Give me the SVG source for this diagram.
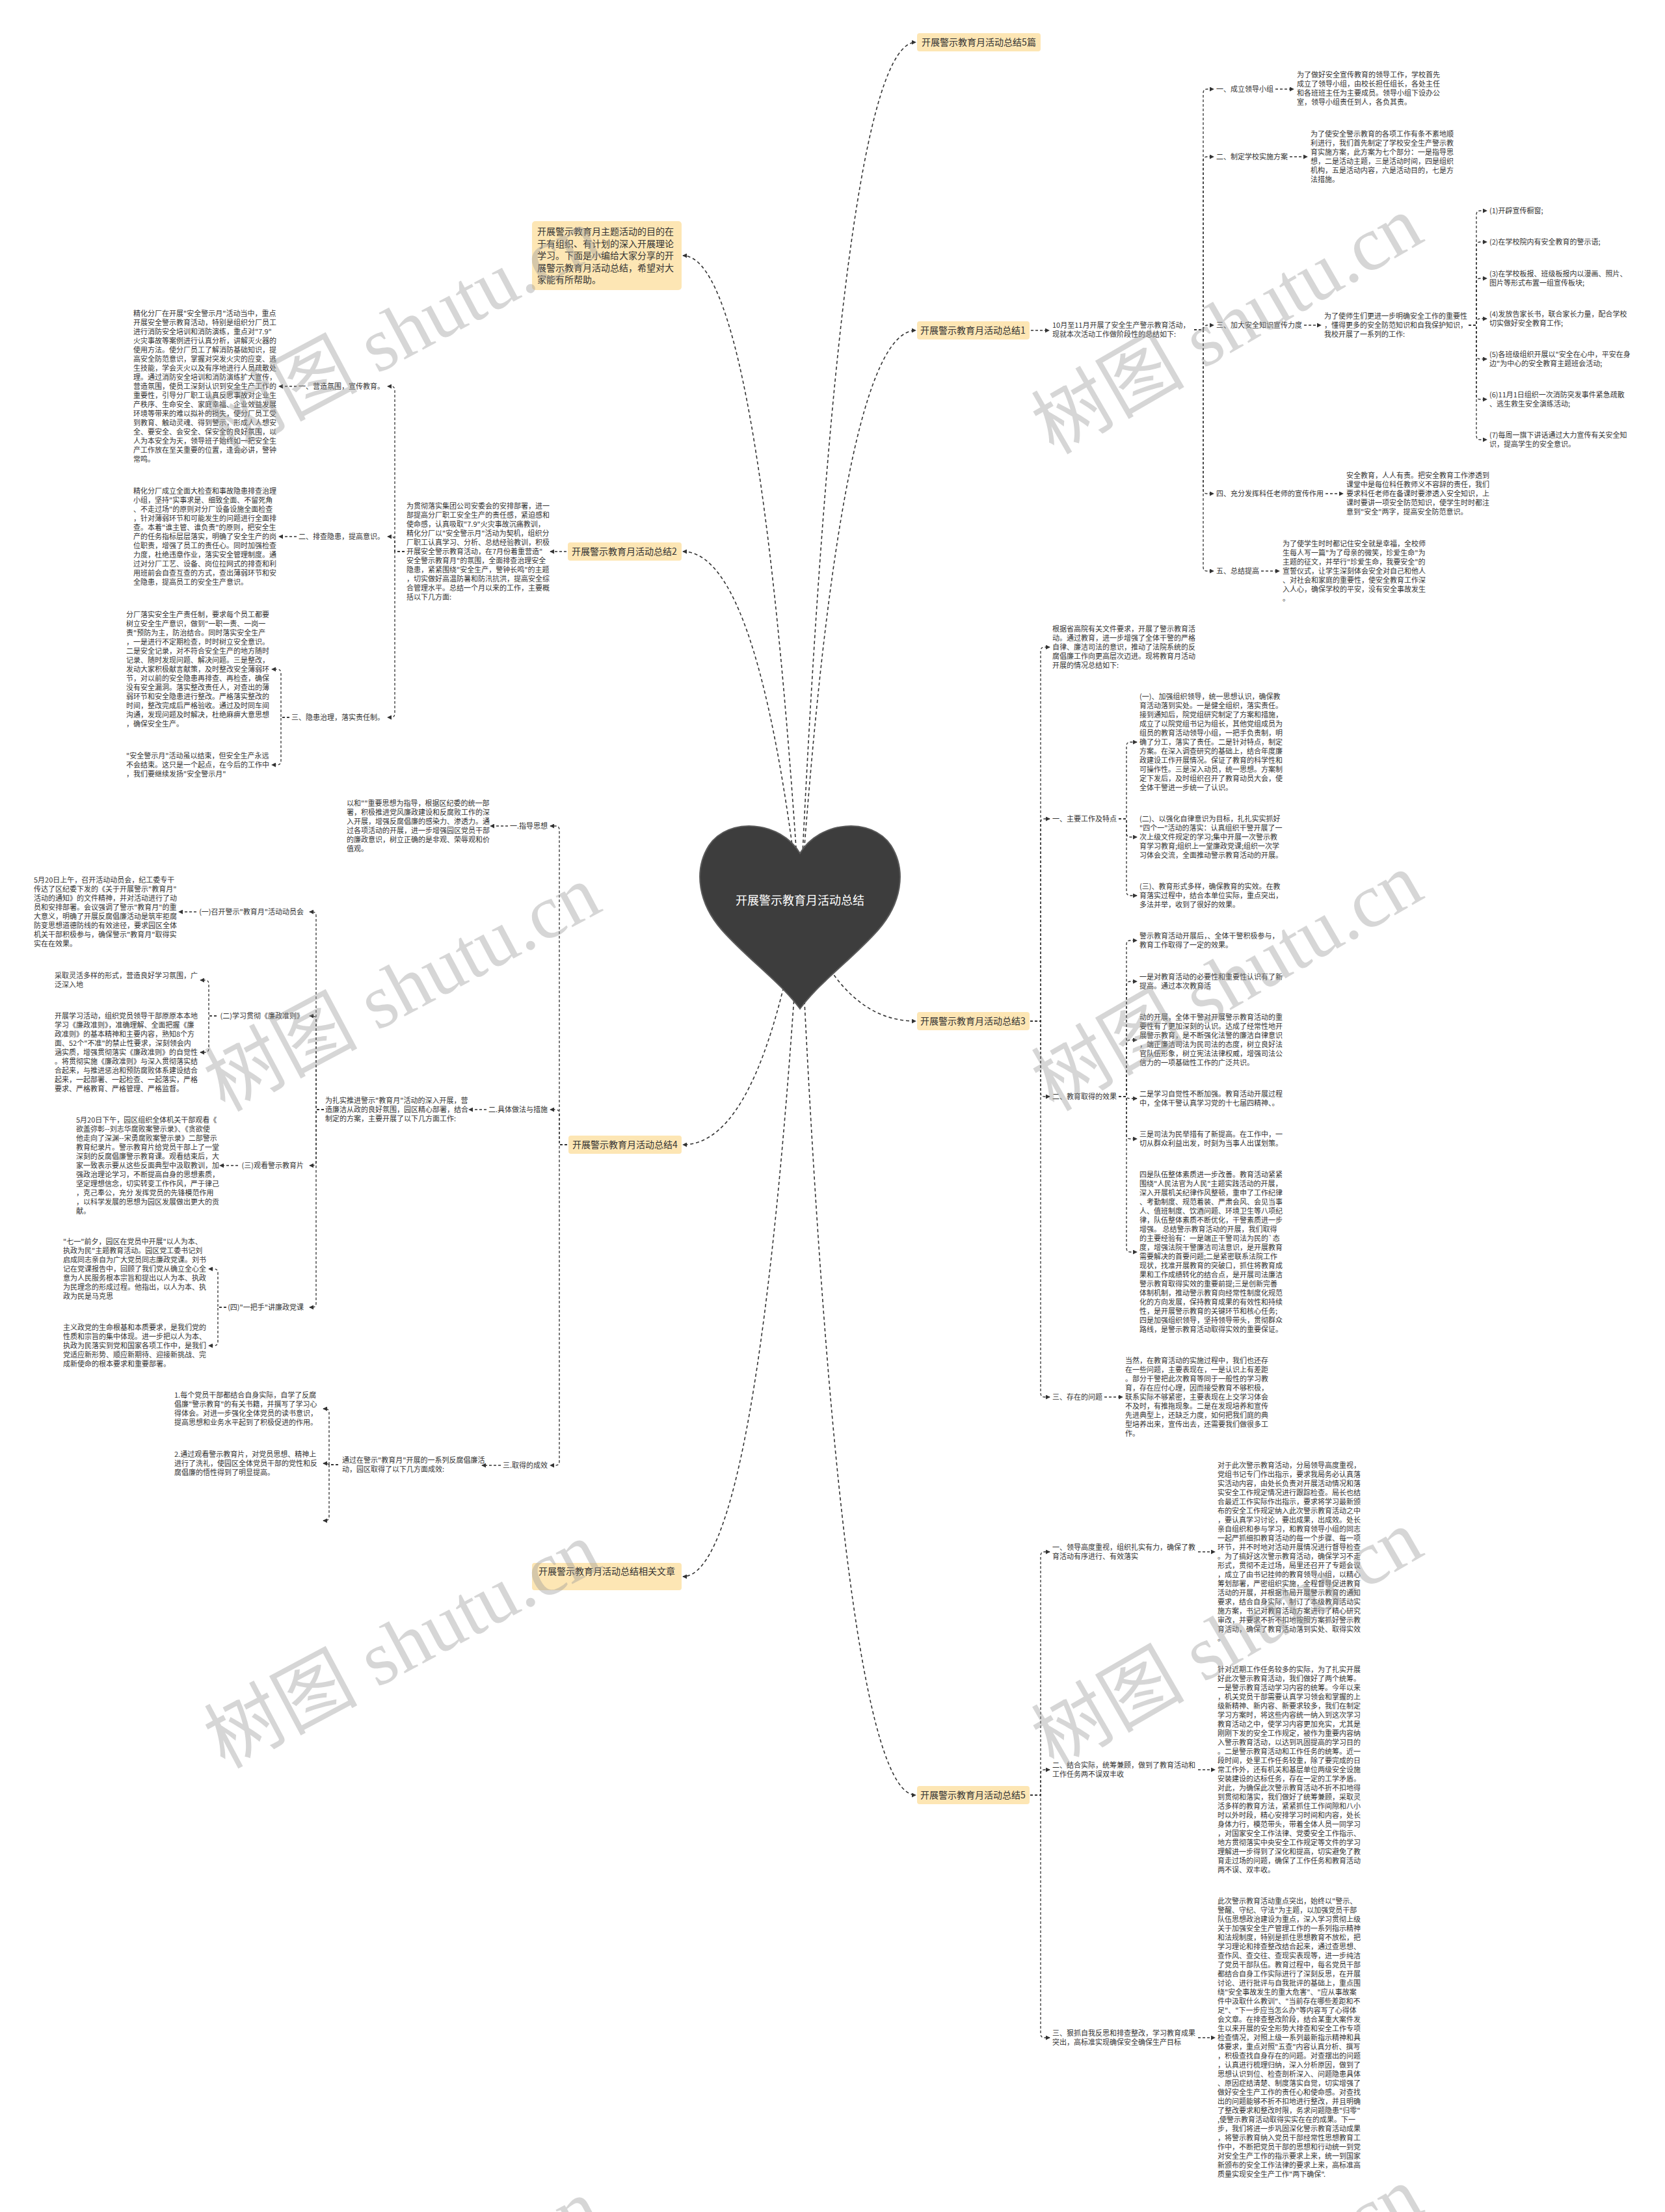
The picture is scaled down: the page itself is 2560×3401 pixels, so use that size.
<svg xmlns="http://www.w3.org/2000/svg" width="2560" height="3401" viewBox="0 0 2560 3401">
<defs>
<style>
.t{font-family:"Noto Sans CJK SC","Noto Sans",sans-serif;font-size:11px;fill:#333}
.n{font-family:"Noto Sans CJK SC","Noto Sans",sans-serif;font-size:14px;fill:#333}
.nb{fill:#fde6b4}
.c{fill:none;stroke:#333;stroke-width:1.3;stroke-dasharray:4 3}
.m{fill:none;stroke:#333;stroke-width:1.6;stroke-dasharray:5 4}
.w{font-family:"Liberation Serif","Noto Sans CJK SC",serif;font-size:118px;fill:#999;fill-opacity:0.4}
</style>
<marker id="a" viewBox="0 0 8 8" refX="7" refY="4" markerWidth="7" markerHeight="7" markerUnits="userSpaceOnUse" orient="auto"><path d="M0 0L8 4L0 8z" fill="#333"/></marker>
</defs>
<rect width="2560" height="3401" fill="#fff"/>

<g id="connectors">
<path class="m" marker-end="url(#a)" d="M1230 1395Q1292 65 1408 65"/>
<path class="m" marker-end="url(#a)" d="M1230 1395Q1167 393 1050 393"/>
<path class="m" marker-end="url(#a)" d="M1230 1395Q1292 508 1408 508"/>
<path class="m" marker-end="url(#a)" d="M1230 1395Q1167 848 1050 848"/>
<path class="m" marker-end="url(#a)" d="M1230 1395Q1292 1570 1408 1570"/>
<path class="m" marker-end="url(#a)" d="M1230 1395Q1167 1760 1050 1760"/>
<path class="m" marker-end="url(#a)" d="M1230 1395Q1167 2424 1050 2424"/>
<path class="m" marker-end="url(#a)" d="M1230 1395Q1292 2760 1408 2760"/>
<path class="c" marker-end="url(#a)" d="M1585 508H1613"/>
<path class="c" marker-end="url(#a)" d="M1836 507H1850V143Q1850 137 1856 137H1866"/>
<path class="c" marker-end="url(#a)" d="M1836 507H1850V247Q1850 241 1856 241H1866"/>
<path class="c" marker-end="url(#a)" d="M1836 507H1850Q1851 500 1856 500H1866"/>
<path class="c" marker-end="url(#a)" d="M1836 507H1850V753Q1850 759 1856 759H1866"/>
<path class="c" marker-end="url(#a)" d="M1836 507H1850V872Q1850 878 1856 878H1866"/>
<path class="c" marker-end="url(#a)" d="M1961 137H1989"/>
<path class="c" marker-end="url(#a)" d="M1983 241H2010"/>
<path class="c" marker-end="url(#a)" d="M2005 500H2031"/>
<path class="c" marker-end="url(#a)" d="M2038 759H2065"/>
<path class="c" marker-end="url(#a)" d="M1939 878H1967"/>
<path class="c" marker-end="url(#a)" d="M2258 500H2270V330Q2270 324 2276 324H2286"/>
<path class="c" marker-end="url(#a)" d="M2258 500H2270V378Q2270 372 2276 372H2286"/>
<path class="c" marker-end="url(#a)" d="M2258 500H2270V434Q2270 428 2276 428H2286"/>
<path class="c" marker-end="url(#a)" d="M2258 500H2270V496Q2270 490 2276 490H2286"/>
<path class="c" marker-end="url(#a)" d="M2258 500H2270V546Q2270 552 2276 552H2286"/>
<path class="c" marker-end="url(#a)" d="M2258 500H2270V608Q2270 614 2276 614H2286"/>
<path class="c" marker-end="url(#a)" d="M2258 500H2270V670Q2270 676 2276 676H2286"/>
<path class="c" marker-end="url(#a)" d="M871 848H846"/>
<path class="c" marker-end="url(#a)" d="M622 848H607V600Q607 594 601 594H596"/>
<path class="c" marker-end="url(#a)" d="M622 848H607V831Q607 825 601 825H596"/>
<path class="c" marker-end="url(#a)" d="M622 848H607V1097Q607 1103 601 1103H596"/>
<path class="c" marker-end="url(#a)" d="M456 594H429"/>
<path class="c" marker-end="url(#a)" d="M456 825H429"/>
<path class="c" marker-end="url(#a)" d="M445 1103H432V1035Q432 1029 426 1029H418"/>
<path class="c" marker-end="url(#a)" d="M445 1103H432V1170Q432 1176 426 1176H418"/>
<path class="c" marker-end="url(#a)" d="M1584 1570H1600V1001Q1600 995 1606 995H1614"/>
<path class="c" marker-end="url(#a)" d="M1584 1570H1600V1265Q1600 1259 1606 1259H1614"/>
<path class="c" marker-end="url(#a)" d="M1584 1570H1600V1680Q1600 1686 1606 1686H1614"/>
<path class="c" marker-end="url(#a)" d="M1584 1570H1600V2142Q1600 2148 1606 2148H1614"/>
<path class="c" marker-end="url(#a)" d="M1720 1259H1732V1147Q1732 1141 1738 1141H1748"/>
<path class="c" marker-end="url(#a)" d="M1720 1259H1732V1281Q1732 1287 1738 1287H1748"/>
<path class="c" marker-end="url(#a)" d="M1720 1259H1732V1371Q1732 1377 1738 1377H1748"/>
<path class="c" marker-end="url(#a)" d="M1720 1686H1732V1452Q1732 1446 1738 1446H1748"/>
<path class="c" marker-end="url(#a)" d="M1720 1686H1732V1515Q1732 1509 1738 1509H1748"/>
<path class="c" marker-end="url(#a)" d="M1720 1686H1732V1605Q1732 1599 1738 1599H1748"/>
<path class="c" marker-end="url(#a)" d="M1720 1686H1732Q1733 1689 1738 1689H1748"/>
<path class="c" marker-end="url(#a)" d="M1720 1686H1732V1745Q1732 1751 1738 1751H1748"/>
<path class="c" marker-end="url(#a)" d="M1720 1686H1732V1919Q1732 1925 1738 1925H1748"/>
<path class="c" marker-end="url(#a)" d="M1698 2148H1726"/>
<path class="c" marker-end="url(#a)" d="M872 1760H860V1276Q860 1270 854 1270H846"/>
<path class="c" marker-end="url(#a)" d="M872 1760H860V1712Q860 1706 854 1706H846"/>
<path class="c" marker-end="url(#a)" d="M872 1760H860V2247Q860 2253 854 2253H846"/>
<path class="c" marker-end="url(#a)" d="M781 1270H754"/>
<path class="c" marker-end="url(#a)" d="M748 1706H721"/>
<path class="c" marker-end="url(#a)" d="M770 2253H741"/>
<path class="c" marker-end="url(#a)" d="M498 1706H486V1408Q486 1402 480 1402H476"/>
<path class="c" marker-end="url(#a)" d="M498 1706H486V1568Q486 1562 480 1562H476"/>
<path class="c" marker-end="url(#a)" d="M498 1706H486V1786Q486 1792 480 1792H476"/>
<path class="c" marker-end="url(#a)" d="M498 1706H486V2004Q486 2010 480 2010H476"/>
<path class="c" marker-end="url(#a)" d="M302 1402H275"/>
<path class="c" marker-end="url(#a)" d="M333 1562H321V1513Q321 1507 315 1507H308"/>
<path class="c" marker-end="url(#a)" d="M333 1562H321V1612Q321 1618 315 1618H308"/>
<path class="c" marker-end="url(#a)" d="M366 1792H338"/>
<path class="c" marker-end="url(#a)" d="M348 2010H335V1957Q335 1951 329 1951H321"/>
<path class="c" marker-end="url(#a)" d="M348 2010H335V2063Q335 2069 329 2069H321"/>
<path class="c" marker-end="url(#a)" d="M520 2252H506V2172Q506 2166 500 2166H497"/>
<path class="c" marker-end="url(#a)" d="M520 2252H506Q504 2250 500 2250H497"/>
<path class="c" marker-end="url(#a)" d="M520 2252H506V2332Q506 2338 500 2338H497"/>
<path class="c" marker-end="url(#a)" d="M1584 2760H1600V2392Q1600 2386 1606 2386H1614"/>
<path class="c" marker-end="url(#a)" d="M1584 2760H1600V2727Q1600 2721 1606 2721H1614"/>
<path class="c" marker-end="url(#a)" d="M1584 2760H1600V3127Q1600 3133 1606 3133H1614"/>
<path class="c" marker-end="url(#a)" d="M1842 2386H1868"/>
<path class="c" marker-end="url(#a)" d="M1842 2721H1868"/>
<path class="c" marker-end="url(#a)" d="M1842 3133H1868"/>
</g>

<g id="center">
<path d="M1230 1312C1200 1262 1120 1255 1090 1300C1065 1340 1075 1390 1110 1430C1150 1475 1200 1510 1230 1551C1260 1510 1310 1475 1350 1430C1385 1390 1395 1340 1370 1300C1340 1255 1260 1262 1230 1312Z" fill="#3d3d3d" stroke="#5a5a5a" stroke-width="2"/>
<text x="1230" y="1391" text-anchor="middle" style="font-family:'Noto Sans CJK SC',sans-serif;font-size:18px;fill:#fff">开展警示教育月活动总结</text>
</g>

<g id="node-top">
<rect class="nb" x="1410" y="51" width="190" height="28" rx="4"/>
<text class="n" x="1505" y="70" text-anchor="middle">开展警示教育月活动总结5篇</text>
</g>

<g id="node-intro">
<rect class="nb" x="818" y="340" width="230" height="106" rx="5"/>
<text class="n" x="826" y="361"><tspan>开展警示教育月主题活动的目的在</tspan><tspan x="826" dy="18.5">于有组织、有计划的深入开展理论</tspan><tspan x="826" dy="18.5">学习。下面是小编给大家分享的开</tspan><tspan x="826" dy="18.5">展警示教育月活动总结，希望对大</tspan><tspan x="826" dy="18.5">家能有所帮助。</tspan></text>
</g>

<g id="branch1">
<rect class="nb" x="1410" y="494" width="173" height="28" rx="4"/>
<text class="n" x="1496" y="513" text-anchor="middle">开展警示教育月活动总结1</text>
<text class="t" x="1618" y="504"><tspan>10月至11月开展了安全生产警示教育活动，</tspan><tspan x="1618" dy="14">现就本次活动工作做阶段性的总结如下:</tspan></text>
<text class="t" x="1870" y="141">一、成立领导小组</text>
<text class="t" x="1870" y="245">二、制定学校实施方案</text>
<text class="t" x="1870" y="504">三、加大安全知识宣传力度</text>
<text class="t" x="1870" y="763">四、充分发挥科任老师的宣传作用</text>
<text class="t" x="1870" y="882">五、总结提高</text>
<text class="t" x="1994" y="119"><tspan>为了做好安全宣传教育的领导工作，学校首先</tspan><tspan x="1994" dy="14">成立了领导小组，由校长担任组长，各处主任</tspan><tspan x="1994" dy="14">和各班班主任为主要成员。领导小组下设办公</tspan><tspan x="1994" dy="14">室，领导小组责任到人，各负其责。</tspan></text>
<text class="t" x="2015" y="210"><tspan>为了使安全警示教育的各项工作有条不紊地顺</tspan><tspan x="2015" dy="14">利进行，我们首先制定了学校安全生产警示教</tspan><tspan x="2015" dy="14">育实施方案，此方案为七个部分：一是指导思</tspan><tspan x="2015" dy="14">想，二是活动主题，三是活动时间，四是组织</tspan><tspan x="2015" dy="14">机构，五是活动内容，六是活动目的，七是方</tspan><tspan x="2015" dy="14">法措施。</tspan></text>
<text class="t" x="2036" y="490"><tspan>为了使师生们更进一步明确安全工作的重要性</tspan><tspan x="2036" dy="14">，懂得更多的安全防范知识和自我保护知识，</tspan><tspan x="2036" dy="14">我校开展了一系列的工作:</tspan></text>
<text class="t" x="2290" y="328">(1)开辟宣传橱窗;</text>
<text class="t" x="2290" y="376">(2)在学校院内有安全教育的警示语;</text>
<text class="t" x="2290" y="425"><tspan>(3)在学校板报、班级板报内以漫画、照片、</tspan><tspan x="2290" dy="14">图片等形式布置一组宣传板块;</tspan></text>
<text class="t" x="2290" y="487"><tspan>(4)发放告家长书，联合家长力量，配合学校</tspan><tspan x="2290" dy="14">切实做好安全教育工作;</tspan></text>
<text class="t" x="2290" y="549"><tspan>(5)各班级组织开展以"安全在心中，平安在身</tspan><tspan x="2290" dy="14">边"为中心的安全教育主题班会活动;</tspan></text>
<text class="t" x="2290" y="611"><tspan>(6)11月1日组织一次消防突发事件紧急疏散</tspan><tspan x="2290" dy="14">、逃生救生安全演练活动;</tspan></text>
<text class="t" x="2290" y="673"><tspan>(7)每周一旗下讲话通过大力宣传有关安全知</tspan><tspan x="2290" dy="14">识，提高学生的安全意识。</tspan></text>
<text class="t" x="2070" y="735"><tspan>安全教育，人人有责。把安全教育工作渗透到</tspan><tspan x="2070" dy="14">课堂中是每位科任教师义不容辞的责任，我们</tspan><tspan x="2070" dy="14">要求科任老师在备课时要渗透入安全知识，上</tspan><tspan x="2070" dy="14">课时要讲一项安全防范知识，使学生时时都注</tspan><tspan x="2070" dy="14">意到"安全"两字，提高安全防范意识。</tspan></text>
<text class="t" x="1972" y="840"><tspan>为了使学生时时都记住安全就是幸福，全校师</tspan><tspan x="1972" dy="14">生每人写一篇"为了母亲的微笑，珍爱生命"为</tspan><tspan x="1972" dy="14">主题的征文，并举行"珍爱生命，我要安全"的</tspan><tspan x="1972" dy="14">宣誓仪式，让学生深刻体会安全对自己和他人</tspan><tspan x="1972" dy="14">、对社会和家庭的重要性，使安全教育工作深</tspan><tspan x="1972" dy="14">入人心，确保学校的平安，没有安全事故发生</tspan><tspan x="1972" dy="14">。</tspan></text>
</g>

<g id="branch2">
<rect class="nb" x="873" y="834" width="175" height="28" rx="4"/>
<text class="n" x="960" y="853" text-anchor="middle">开展警示教育月活动总结2</text>
<text class="t" x="625" y="782"><tspan>为贯彻落实集团公司安委会的安排部署，进一</tspan><tspan x="625" dy="14">部提高分厂职工安全生产的责任感，紧迫感和</tspan><tspan x="625" dy="14">使命感，认真吸取"7.9"火灾事故沉痛教训，</tspan><tspan x="625" dy="14">精化分厂以"安全警示月"活动为契机，组织分</tspan><tspan x="625" dy="14">厂职工认真学习、分析、总结经验教训，积极</tspan><tspan x="625" dy="14">开展安全警示教育活动，在7月份着重营造"</tspan><tspan x="625" dy="14">安全警示教育月"的氛围，全面排查治理安全</tspan><tspan x="625" dy="14">隐患，紧紧围绕"安全生产，警钟长鸣"的主题</tspan><tspan x="625" dy="14">，切实做好高温防暑和防汛抗洪，提高安全综</tspan><tspan x="625" dy="14">合管理水平。总结一个月以来的工作，主要概</tspan><tspan x="625" dy="14">括以下几方面:</tspan></text>
<text class="t" x="591" y="598" text-anchor="end">一、营造氛围，宣传教育。</text>
<text class="t" x="591" y="829" text-anchor="end">二、排查隐患，提高意识。</text>
<text class="t" x="591" y="1107" text-anchor="end">三、隐患治理，落实责任制。</text>
<text class="t" x="205" y="486"><tspan>精化分厂在开展"安全警示月"活动当中，重点</tspan><tspan x="205" dy="14">开展安全警示教育活动，特别是组织分厂员工</tspan><tspan x="205" dy="14">进行消防安全培训和消防演练，重点对"7.9"</tspan><tspan x="205" dy="14">火灾事故等案例进行认真分析，讲解灭火器的</tspan><tspan x="205" dy="14">使用方法。使分厂员工了解消防基础知识，提</tspan><tspan x="205" dy="14">高安全防范意识，掌握对突发火灾的应变、逃</tspan><tspan x="205" dy="14">生技能，学会灭火以及有序地进行人员疏散处</tspan><tspan x="205" dy="14">理。通过消防安全培训和消防演练扩大宣传，</tspan><tspan x="205" dy="14">营造氛围，使员工深刻认识到安全生产工作的</tspan><tspan x="205" dy="14">重要性，引导分厂职工认真反思事故对企业生</tspan><tspan x="205" dy="14">产秩序、生命安全、家庭幸福、企业效益发展</tspan><tspan x="205" dy="14">环境等带来的难以拟补的损失，使分厂员工受</tspan><tspan x="205" dy="14">到教育、触动灵魂、得到警示，形成人人想安</tspan><tspan x="205" dy="14">全、要安全、会安全、保安全的良好氛围，以</tspan><tspan x="205" dy="14">人为本安全为天，领导班子始终如一把安全生</tspan><tspan x="205" dy="14">产工作放在至关重要的位置，逢会必讲，警钟</tspan><tspan x="205" dy="14">常鸣。</tspan></text>
<text class="t" x="205" y="759"><tspan>精化分厂成立全面大检查和事故隐患排查治理</tspan><tspan x="205" dy="14">小组，坚持"实事求是、细致全面、不留死角</tspan><tspan x="205" dy="14">、不走过场"的原则对分厂设备设施全面检查</tspan><tspan x="205" dy="14">，针对薄弱环节和可能发生的问题进行全面排</tspan><tspan x="205" dy="14">查。本着"谁主管、谁负责"的原则，把安全生</tspan><tspan x="205" dy="14">产的任务指标层层落实，明确了安全生产的岗</tspan><tspan x="205" dy="14">位职责，增强了员工的责任心。同时加强检查</tspan><tspan x="205" dy="14">力度，杜绝违章作业，落实安全管理制度。通</tspan><tspan x="205" dy="14">过对分厂工艺、设备、岗位拉网式的排查和利</tspan><tspan x="205" dy="14">用班前会自查互查的方式，查出薄弱环节和安</tspan><tspan x="205" dy="14">全隐患，提高员工的安全生产意识。</tspan></text>
<text class="t" x="194" y="949"><tspan>分厂落实安全生产责任制，要求每个员工都要</tspan><tspan x="194" dy="14">树立安全生产意识，做到"一职一责、一岗一</tspan><tspan x="194" dy="14">责"预防为主，防治结合。同时落实安全生产</tspan><tspan x="194" dy="14">，一是进行不定期检查，时时树立安全意识。</tspan><tspan x="194" dy="14">二是安全记录，对不符合安全生产的地方随时</tspan><tspan x="194" dy="14">记录、随时发现问题、解决问题。三是整改，</tspan><tspan x="194" dy="14">发动大家积极献言献策，及时整改安全薄弱环</tspan><tspan x="194" dy="14">节，对以前的安全隐患再排查、再检查，确保</tspan><tspan x="194" dy="14">没有安全漏洞。落实整改责任人，对查出的薄</tspan><tspan x="194" dy="14">弱环节和安全隐患进行整改。严格落实整改的</tspan><tspan x="194" dy="14">时间，整改完成后严格验收。通过及时同车间</tspan><tspan x="194" dy="14">沟通，发现问题及时解决，杜绝麻痹大意思想</tspan><tspan x="194" dy="14">，确保安全生产。</tspan></text>
<text class="t" x="194" y="1166"><tspan>"安全警示月"活动虽以结束，但安全生产永远</tspan><tspan x="194" dy="14">不会结束。这只是一个起点，在今后的工作中</tspan><tspan x="194" dy="14">，我们要继续发扬"安全警示月"</tspan></text>
</g>

<g id="branch3">
<rect class="nb" x="1410" y="1556" width="173" height="28" rx="4"/>
<text class="n" x="1496" y="1575" text-anchor="middle">开展警示教育月活动总结3</text>
<text class="t" x="1618" y="971"><tspan>根据省高院有关文件要求，开展了警示教育活</tspan><tspan x="1618" dy="14">动。通过教育，进一步增强了全体干警的严格</tspan><tspan x="1618" dy="14">自律、廉洁司法的意识，推动了法院系统的反</tspan><tspan x="1618" dy="14">腐倡廉工作向更高层次迈进。现将教育月活动</tspan><tspan x="1618" dy="14">开展的情况总结如下:</tspan></text>
<text class="t" x="1618" y="1263">一、主要工作及特点</text>
<text class="t" x="1618" y="1690">二、教育取得的效果</text>
<text class="t" x="1618" y="2152">三、存在的问题</text>
<text class="t" x="1752" y="1075"><tspan>(一)、加强组织领导，统一思想认识，确保教</tspan><tspan x="1752" dy="14">育活动落到实处。一是健全组织，落实责任。</tspan><tspan x="1752" dy="14">接到通知后，院党组研究制定了方案和措施，</tspan><tspan x="1752" dy="14">成立了以院党组书记为组长，其他党组成员为</tspan><tspan x="1752" dy="14">组员的教育活动领导小组，一把手负责制，明</tspan><tspan x="1752" dy="14">确了分工，落实了责任。二是针对特点，制定</tspan><tspan x="1752" dy="14">方案。在深入调查研究的基础上，结合年度廉</tspan><tspan x="1752" dy="14">政建设工作开展情况。保证了教育的科学性和</tspan><tspan x="1752" dy="14">可操作性。三是深入动员，统一思想。方案制</tspan><tspan x="1752" dy="14">定下发后，及时组织召开了教育动员大会，使</tspan><tspan x="1752" dy="14">全体干警进一步统一了认识。</tspan></text>
<text class="t" x="1752" y="1263"><tspan>(二)、以强化自律意识为目标，扎扎实实抓好</tspan><tspan x="1752" dy="14">"四个一"活动的落实：认真组织干警开展了一</tspan><tspan x="1752" dy="14">次上级文件规定的学习;集中开展一次警示教</tspan><tspan x="1752" dy="14">育学习教育;组织上一堂廉政党课;组织一次学</tspan><tspan x="1752" dy="14">习体会交流，全面推动警示教育活动的开展。</tspan></text>
<text class="t" x="1752" y="1367"><tspan>(三)、教育形式多样，确保教育的实效。在教</tspan><tspan x="1752" dy="14">育落实过程中，结合本单位实际，重点突出，</tspan><tspan x="1752" dy="14">多法并举，收到了很好的效果。</tspan></text>
<text class="t" x="1752" y="1443"><tspan>警示教育活动开展后，、全体干警积极参与，</tspan><tspan x="1752" dy="14">教育工作取得了一定的效果。</tspan></text>
<text class="t" x="1752" y="1506"><tspan>一是对教育活动的必要性和重要性认识有了新</tspan><tspan x="1752" dy="14">提高。通过本次教育活</tspan></text>
<text class="t" x="1752" y="1568"><tspan>动的开展，全体干警对开展警示教育活动的重</tspan><tspan x="1752" dy="14">要性有了更加深刻的认识。达成了经常性地开</tspan><tspan x="1752" dy="14">展警示教育，是不断强化法警的廉洁自律意识</tspan><tspan x="1752" dy="14">，端正廉洁司法为民司法的态度，树立良好法</tspan><tspan x="1752" dy="14">官队伍形象，树立宪法法律权威，增强司法公</tspan><tspan x="1752" dy="14">信力的一项基础性工作的广泛共识。</tspan></text>
<text class="t" x="1752" y="1686"><tspan>二是学习自觉性不断加强。教育活动开展过程</tspan><tspan x="1752" dy="14">中，全体干警认真学习党的十七届四精神、。</tspan></text>
<text class="t" x="1752" y="1748"><tspan>三是司法为民举措有了新提高。在工作中，一</tspan><tspan x="1752" dy="14">切从群众利益出发，时刻为当事人出谋划策。</tspan></text>
<text class="t" x="1752" y="1810"><tspan>四是队伍整体素质进一步改善。教育活动紧紧</tspan><tspan x="1752" dy="14">围绕"人民法官为人民"主题实践活动的开展，</tspan><tspan x="1752" dy="14">深入开展机关纪律作风整顿，重申了工作纪律</tspan><tspan x="1752" dy="14">、考勤制度、规范着装、严肃会风、会见当事</tspan><tspan x="1752" dy="14">人、值班制度、饮酒问题、环境卫生等八项纪</tspan><tspan x="1752" dy="14">律，队伍整体素质不断优化，干警素质进一步</tspan><tspan x="1752" dy="14">增强。 总结警示教育活动的开展，我们取得</tspan><tspan x="1752" dy="14">的主要经验有：一是端正干警司法为民的`态</tspan><tspan x="1752" dy="14">度，增强法院干警廉洁司法意识，是开展教育</tspan><tspan x="1752" dy="14">需要解决的首要问题;二是紧密联系法院工作</tspan><tspan x="1752" dy="14">现状，找准开展教育的突破口，抓住将教育成</tspan><tspan x="1752" dy="14">果和工作成绩转化的结合点，是开展司法廉洁</tspan><tspan x="1752" dy="14">警示教育取得实效的重要前提;三是创新完善</tspan><tspan x="1752" dy="14">体制机制，推动警示教育向经常性制度化规范</tspan><tspan x="1752" dy="14">化的方向发展，保持教育成果的有效性和持续</tspan><tspan x="1752" dy="14">性，是开展警示教育的关键环节和核心任务;</tspan><tspan x="1752" dy="14">四是加强组织领导，坚持领导带头，贯彻群众</tspan><tspan x="1752" dy="14">路线，是警示教育活动取得实效的重要保证。</tspan></text>
<text class="t" x="1730" y="2096"><tspan>当然，在教育活动的实施过程中，我们也还存</tspan><tspan x="1730" dy="14">在一些问题，主要表现在，一是认识上有差距</tspan><tspan x="1730" dy="14">。部分干警把此次教育等同于一般性的学习教</tspan><tspan x="1730" dy="14">育，存在应付心理，因而接受教育不够积极，</tspan><tspan x="1730" dy="14">联系实际不够紧密，主要表现在上交学习体会</tspan><tspan x="1730" dy="14">不及时，有推拖现象。二是在发现培养和宣传</tspan><tspan x="1730" dy="14">先进典型上，还缺乏力度，如何把我们庭的典</tspan><tspan x="1730" dy="14">型培养出来，宣传出去，还需要我们做很多工</tspan><tspan x="1730" dy="14">作。</tspan></text>
</g>

<g id="branch4">
<rect class="nb" x="874" y="1746" width="174" height="28" rx="4"/>
<text class="n" x="961" y="1765" text-anchor="middle">开展警示教育月活动总结4</text>
<text class="t" x="842" y="1274" text-anchor="end">一.指导思想</text>
<text class="t" x="842" y="1710" text-anchor="end">二.具体做法与措施</text>
<text class="t" x="842" y="2257" text-anchor="end">三.取得的成效</text>
<text class="t" x="533" y="1239"><tspan>以和""重要思想为指导，根据区纪委的统一部</tspan><tspan x="533" dy="14">署，积极推进党风廉政建设和反腐败工作的深</tspan><tspan x="533" dy="14">入开展，增强反腐倡廉的感染力、渗透力。通</tspan><tspan x="533" dy="14">过各项活动的开展，进一步增强园区党员干部</tspan><tspan x="533" dy="14">的廉政意识，树立正确的是非观、荣辱观和价</tspan><tspan x="533" dy="14">值观。</tspan></text>
<text class="t" x="500" y="1696"><tspan>为扎实推进警示"教育月"活动的深入开展，营</tspan><tspan x="500" dy="14">造廉洁从政的良好氛围，园区精心部署，结合</tspan><tspan x="500" dy="14">制定的方案，主要开展了以下几方面工作:</tspan></text>
<text class="t" x="467" y="1406" text-anchor="end">(一)召开警示"教育月"活动动员会</text>
<text class="t" x="467" y="1566" text-anchor="end">(二)学习贯彻《廉政准则》</text>
<text class="t" x="467" y="1796" text-anchor="end">(三)观看警示教育片</text>
<text class="t" x="467" y="2014" text-anchor="end">(四)"一把手"讲廉政党课</text>
<text class="t" x="52" y="1357"><tspan>5月20日上午，召开活动动员会，纪工委专干</tspan><tspan x="52" dy="14">传达了区纪委下发的《关于开展警示"教育月"</tspan><tspan x="52" dy="14">活动的通知》的文件精神，并对活动进行了动</tspan><tspan x="52" dy="14">员和安排部署。会议强调了警示"教育月"的重</tspan><tspan x="52" dy="14">大意义，明确了开展反腐倡廉活动是筑牢拒腐</tspan><tspan x="52" dy="14">防变思想道德防线的有效途径，要求园区全体</tspan><tspan x="52" dy="14">机关干部积极参与，确保警示"教育月"取得实</tspan><tspan x="52" dy="14">实在在效果。</tspan></text>
<text class="t" x="84" y="1504"><tspan>采取灵活多样的形式，营造良好学习氛围，广</tspan><tspan x="84" dy="14">泛深入地</tspan></text>
<text class="t" x="84" y="1566"><tspan>开展学习活动，组织党员领导干部原原本本地</tspan><tspan x="84" dy="14">学习《廉政准则》，准确理解、全面把握《廉</tspan><tspan x="84" dy="14">政准则》的基本精神和主要内容，熟知8个方</tspan><tspan x="84" dy="14">面、52个"不准"的禁止性要求，深刻领会内</tspan><tspan x="84" dy="14">涵实质，增强贯彻落实《廉政准则》的自觉性</tspan><tspan x="84" dy="14">。将贯彻实施《廉政准则》与深入贯彻落实结</tspan><tspan x="84" dy="14">合起来，与推进惩治和预防腐败体系建设结合</tspan><tspan x="84" dy="14">起来，一起部署、一起检查、一起落实，严格</tspan><tspan x="84" dy="14">要求、严格教育、严格管理、严格监督。</tspan></text>
<text class="t" x="117" y="1726"><tspan>5月20日下午，园区组织全体机关干部观看《</tspan><tspan x="117" dy="14">欲盖弥彰--刘志华腐败案警示录》、《贪欲使</tspan><tspan x="117" dy="14">他走向了深渊--宋勇腐败案警示录》二部警示</tspan><tspan x="117" dy="14">教育纪录片。警示教育片给党员干部上了一堂</tspan><tspan x="117" dy="14">深刻的反腐倡廉警示教育课。观看结束后，大</tspan><tspan x="117" dy="14">家一致表示要从这些反面典型中汲取教训，加</tspan><tspan x="117" dy="14">强政治理论学习，不断提高自身的思想素质，</tspan><tspan x="117" dy="14">坚定理想信念，切实转变工作作风，严于律己</tspan><tspan x="117" dy="14">，克己奉公，充分 发挥党员的先锋模范作用</tspan><tspan x="117" dy="14">，以科学发展的思想为园区发展做出更大的贡</tspan><tspan x="117" dy="14">献。</tspan></text>
<text class="t" x="97" y="1913"><tspan>"七一"前夕，园区在党员中开展"以人为本、</tspan><tspan x="97" dy="14">执政为民"主题教育活动。园区党工委书记刘</tspan><tspan x="97" dy="14">启成同志亲自为广大党员同志廉政党课。刘书</tspan><tspan x="97" dy="14">记在党课报告中，回顾了我们党从确立全心全</tspan><tspan x="97" dy="14">意为人民服务根本宗旨和提出以人为本、执政</tspan><tspan x="97" dy="14">为民理念的形成过程。他指出，以人为本、执</tspan><tspan x="97" dy="14">政为民是马克思</tspan></text>
<text class="t" x="97" y="2045"><tspan>主义政党的生命根基和本质要求，是我们党的</tspan><tspan x="97" dy="14">性质和宗旨的集中体现。进一步把以人为本、</tspan><tspan x="97" dy="14">执政为民落实到党和国家各项工作中，是我们</tspan><tspan x="97" dy="14">党适应新形势、顺应新期待、迎接新挑战、完</tspan><tspan x="97" dy="14">成新使命的根本要求和重要部署。</tspan></text>
<text class="t" x="526" y="2249"><tspan>通过在警示"教育月"开展的一系列反腐倡廉活</tspan><tspan x="526" dy="14">动，园区取得了以下几方面成效:</tspan></text>
<text class="t" x="268" y="2149"><tspan>1.每个党员干部都结合自身实际，自学了反腐</tspan><tspan x="268" dy="14">倡廉"警示教育"的有关书籍，并撰写了学习心</tspan><tspan x="268" dy="14">得体会。对进一步强化全体党员的读书意识，</tspan><tspan x="268" dy="14">提高思想和业务水平起到了积极促进的作用。</tspan></text>
<text class="t" x="268" y="2240"><tspan>2.通过观看警示教育片，对党员思想、精神上</tspan><tspan x="268" dy="14">进行了洗礼，使园区全体党员干部的党性和反</tspan><tspan x="268" dy="14">腐倡廉的悟性得到了明显提高。</tspan></text>
</g>

<g id="node-related">
<rect class="nb" x="818" y="2403" width="230" height="42" rx="4"/>
<text class="n" x="933" y="2421" text-anchor="middle">开展警示教育月活动总结相关文章</text>
</g>

<g id="branch5">
<rect class="nb" x="1410" y="2746" width="173" height="28" rx="4"/>
<text class="n" x="1496" y="2765" text-anchor="middle">开展警示教育月活动总结5</text>
<text class="t" x="1618" y="2383"><tspan>一、领导高度重视，组织扎实有力，确保了教</tspan><tspan x="1618" dy="14">育活动有序进行、有效落实</tspan></text>
<text class="t" x="1618" y="2718"><tspan>二、结合实际，统筹兼顾，做到了教育活动和</tspan><tspan x="1618" dy="14">工作任务两不误双丰收</tspan></text>
<text class="t" x="1618" y="3130"><tspan>三、狠抓自我反思和排查整改，学习教育成果</tspan><tspan x="1618" dy="14">突出，高标准实现确保安全确保生产目标</tspan></text>
<text class="t" x="1872" y="2257"><tspan>对于此次警示教育活动，分局领导高度重视，</tspan><tspan x="1872" dy="14">党组书记专门作出指示，要求我局务必认真落</tspan><tspan x="1872" dy="14">实活动内容，由处长负责对开展活动情况和落</tspan><tspan x="1872" dy="14">实安全工作规定情况进行跟踪检查。局长也结</tspan><tspan x="1872" dy="14">合最近工作实际作出指示，要求将学习最新颁</tspan><tspan x="1872" dy="14">布的安全工作规定纳入此次警示教育活动之中</tspan><tspan x="1872" dy="14">，要认真学习讨论，要出成果，出成效。处长</tspan><tspan x="1872" dy="14">亲自组织和参与学习，和教育领导小组的同志</tspan><tspan x="1872" dy="14">一起严抓细扣教育活动的每一个步骤、每一项</tspan><tspan x="1872" dy="14">环节，并不时地对活动开展情况进行督导检查</tspan><tspan x="1872" dy="14">。为了搞好这次警示教育活动，确保学习不走</tspan><tspan x="1872" dy="14">形式，贯彻不走过场，局里还召开了专题会议</tspan><tspan x="1872" dy="14">，成立了由书记挂帅的教育领导小组，以精心</tspan><tspan x="1872" dy="14">筹划部署，严密组织实施，全程督导促进教育</tspan><tspan x="1872" dy="14">活动的开展，并根据市局开展警示教育的通知</tspan><tspan x="1872" dy="14">要求，结合自身实际，制订了本级教育活动实</tspan><tspan x="1872" dy="14">施方案，书记对教育活动方案进行了精心研究</tspan><tspan x="1872" dy="14">审改，并要求不折不扣地按照方案抓好警示教</tspan><tspan x="1872" dy="14">育活动，确保了教育活动落到实处、取得实效</tspan><tspan x="1872" dy="14">。</tspan></text>
<text class="t" x="1872" y="2571"><tspan>针对近期工作任务较多的实际，为了扎实开展</tspan><tspan x="1872" dy="14">好此次警示教育活动，我们做好了两个统筹。</tspan><tspan x="1872" dy="14">一是警示教育活动学习内容的统筹。今年以来</tspan><tspan x="1872" dy="14">，机关党员干部需要认真学习领会和掌握的上</tspan><tspan x="1872" dy="14">级新精神、新内容、新要求较多，我们在制定</tspan><tspan x="1872" dy="14">学习方案时，将这些内容统一纳入到这次学习</tspan><tspan x="1872" dy="14">教育活动之中，使学习内容更加充实，尤其是</tspan><tspan x="1872" dy="14">刚刚下发的安全工作规定，被作为重要内容纳</tspan><tspan x="1872" dy="14">入警示教育活动，以达到巩固提高的学习目的</tspan><tspan x="1872" dy="14">。二是警示教育活动和工作任务的统筹。近一</tspan><tspan x="1872" dy="14">段时间，处里工作任务较重，除了要完成的日</tspan><tspan x="1872" dy="14">常工作外，还有机关和基层单位两级安全设施</tspan><tspan x="1872" dy="14">安装建设的达标任务，存在一定的工学矛盾。</tspan><tspan x="1872" dy="14">对此，为确保此次警示教育活动不折不扣地得</tspan><tspan x="1872" dy="14">到贯彻和落实，我们做好了统筹兼顾，采取灵</tspan><tspan x="1872" dy="14">活多样的教育方法，紧紧抓住工作间隙和八小</tspan><tspan x="1872" dy="14">时以外时段，精心安排学习时间和内容，处长</tspan><tspan x="1872" dy="14">身体力行，模范带头，带着全体人员一同学习</tspan><tspan x="1872" dy="14">，对国家安全工作法律、党委安全工作指示、</tspan><tspan x="1872" dy="14">地方贯彻落实中央安全工作规定等文件的学习</tspan><tspan x="1872" dy="14">理解进一步得到了深化和提高，切实避免了教</tspan><tspan x="1872" dy="14">育走过场的问题，确保了工作任务和教育活动</tspan><tspan x="1872" dy="14">两不误、双丰收。</tspan></text>
<text class="t" x="1872" y="2927"><tspan>此次警示教育活动重点突出，始终以"警示、</tspan><tspan x="1872" dy="14">警醒、守纪、守法"为主题，以加强党员干部</tspan><tspan x="1872" dy="14">队伍思想政治建设为重点，深入学习贯彻上级</tspan><tspan x="1872" dy="14">关于加强安全生产管理工作的一系列指示精神</tspan><tspan x="1872" dy="14">和法规制度，特别是抓住思想教育不放松，把</tspan><tspan x="1872" dy="14">学习理论和排查整改结合起来，通过查思想、</tspan><tspan x="1872" dy="14">查作风、查交往、查现实表现等，进一步纯洁</tspan><tspan x="1872" dy="14">了党员干部队伍。教育过程中，每名党员干部</tspan><tspan x="1872" dy="14">都结合自身工作实际进行了深刻反思，在开展</tspan><tspan x="1872" dy="14">讨论、进行批评与自我批评的基础上，重点围</tspan><tspan x="1872" dy="14">绕"安全事故发生的重大危害"、"应从事故案</tspan><tspan x="1872" dy="14">件中汲取什么教训"、"当前存在哪些差距和不</tspan><tspan x="1872" dy="14">足"、"下一步应当怎么办"等内容写了心得体</tspan><tspan x="1872" dy="14">会文章。在排查整改阶段，结合某重大案件发</tspan><tspan x="1872" dy="14">生以来开展的安全形势大排查和安全工作专项</tspan><tspan x="1872" dy="14">检查情况，对照上级一系列最新指示精神和具</tspan><tspan x="1872" dy="14">体要求，重点对照"五查"内容认真分析、撰写</tspan><tspan x="1872" dy="14">，积极查找自身存在的问题。对查摆出的问题</tspan><tspan x="1872" dy="14">，认真进行梳理归纳，深入分析原因，做到了</tspan><tspan x="1872" dy="14">思想认识到位、检查剖析深入、问题隐患具体</tspan><tspan x="1872" dy="14">、原因症结清楚、制度落实自觉，切实增强了</tspan><tspan x="1872" dy="14">做好安全生产工作的责任心和使命感。对查找</tspan><tspan x="1872" dy="14">出的问题能够不折不扣地进行整改，并且明确</tspan><tspan x="1872" dy="14">了整改要求和整改时限，务求问题隐患"归零"</tspan><tspan x="1872" dy="14">,使警示教育活动取得实实在在的成果。下一</tspan><tspan x="1872" dy="14">步，我们将进一步巩固深化警示教育活动成果</tspan><tspan x="1872" dy="14">，将警示教育纳入党员干部经常性思想教育工</tspan><tspan x="1872" dy="14">作中，不断把党员干部的思想和行动统一到党</tspan><tspan x="1872" dy="14">对安全生产工作的指示要求上来，统一到国家</tspan><tspan x="1872" dy="14">新颁布的安全工作法律的要求上来，高标准高</tspan><tspan x="1872" dy="14">质量实现安全生产工作"两下确保".</tspan></text>
</g>

<g id="watermarks">
<text class="w" transform="translate(345 700) rotate(-28)">树图 shutu.cn</text>
<text class="w" transform="translate(1620 700) rotate(-30)">树图 shutu.cn</text>
<text class="w" transform="translate(345 1710) rotate(-28)">树图 shutu.cn</text>
<text class="w" transform="translate(1620 1710) rotate(-30)">树图 shutu.cn</text>
<text class="w" transform="translate(345 2720) rotate(-28)">树图 shutu.cn</text>
<text class="w" transform="translate(1620 2720) rotate(-30)">树图 shutu.cn</text>
<text class="w" transform="translate(345 3730) rotate(-28)">树图 shutu.cn</text>
<text class="w" transform="translate(1620 3730) rotate(-30)">树图 shutu.cn</text>
</g>
</svg>
